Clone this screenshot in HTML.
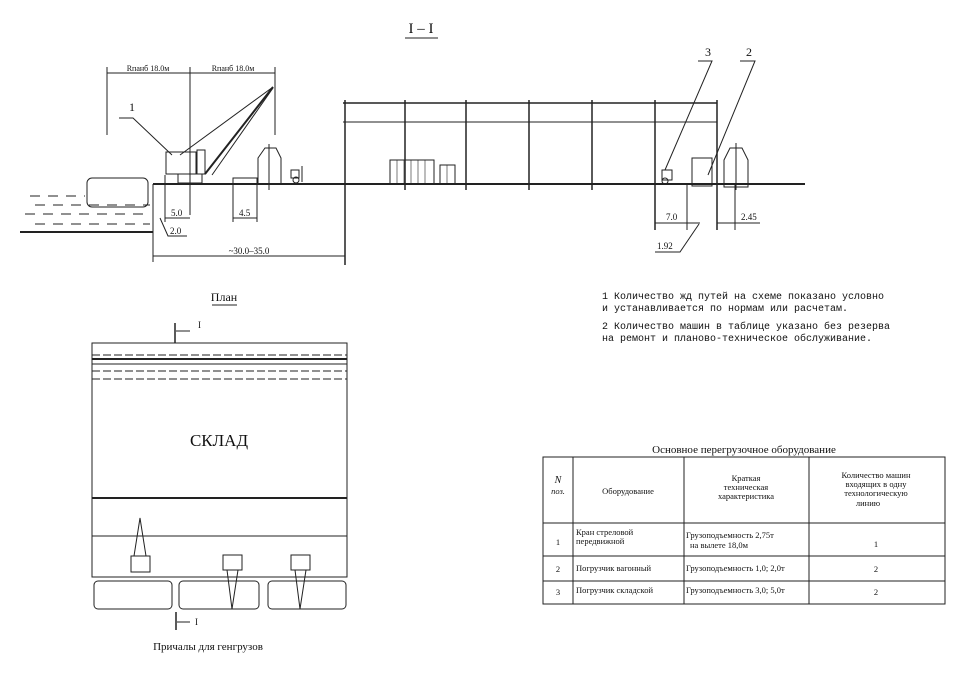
<!DOCTYPE html>
<html><head><meta charset="utf-8"><style>
body{margin:0;background:#fff}
svg{display:block}
text{font-family:"Liberation Serif","DejaVu Serif",serif;fill:#111}
text.mono{font-family:"Liberation Mono","DejaVu Sans Mono",monospace}
</style></head><body>
<svg width="966" height="677" viewBox="0 0 966 677" xmlns="http://www.w3.org/2000/svg" stroke="#222" fill="none" stroke-width="1">
<text x="421" y="33" font-size="15" text-anchor="middle" stroke="none">I – I</text>
<line x1="405" y1="38" x2="438" y2="38"/>
<line x1="107" y1="73" x2="275" y2="73"/>
<line x1="107" y1="67" x2="107" y2="135"/>
<line x1="190" y1="67" x2="190" y2="215"/>
<line x1="275" y1="67" x2="275" y2="135"/>
<text x="148" y="71" font-size="8" text-anchor="middle" stroke="none">Rпанб 18.0м</text>
<text x="233" y="71" font-size="8" text-anchor="middle" stroke="none">Rпанб 18.0м</text>
<text x="129" y="111" font-size="12" stroke="none">1</text>
<polyline points="119,118 133,118 172,155"/>
<rect x="166" y="152" width="30" height="22"/>
<rect x="197" y="150" width="8" height="24"/>
<rect x="178" y="174" width="24" height="9"/>
<line x1="205" y1="174" x2="273" y2="87" stroke-width="2"/>
<line x1="212" y1="175" x2="273" y2="88"/>
<line x1="180" y1="155" x2="273" y2="87"/>
<line x1="153" y1="184" x2="805" y2="184" stroke-width="2"/>
<line x1="153" y1="184" x2="153" y2="262"/>
<line x1="20" y1="232" x2="153" y2="232" stroke-width="2"/>
<rect x="87" y="178" width="61" height="29" rx="5"/>
<g stroke-dasharray="10,8"><line x1="30" y1="196" x2="85" y2="196"/><line x1="35" y1="205" x2="150" y2="205"/><line x1="25" y1="214" x2="150" y2="214"/><line x1="35" y1="224" x2="150" y2="224"/></g>
<path d="M258,184 V158 L265,148 L276,148 L281,158 V184 Z"/>
<line x1="269" y1="144" x2="269" y2="190"/>
<rect x="233" y="178" width="24" height="6"/>
<circle cx="296" cy="180" r="3"/><rect x="291" y="170" width="8" height="8"/><line x1="302" y1="166" x2="302" y2="182"/>
<line x1="165" y1="175" x2="165" y2="222"/><line x1="165" y1="218" x2="190" y2="218"/>
<text x="171" y="216" font-size="9" stroke="none">5.0</text>
<line x1="233" y1="184" x2="233" y2="222"/><line x1="257" y1="184" x2="257" y2="222"/><line x1="233" y1="218" x2="257" y2="218"/>
<text x="239" y="216" font-size="9" stroke="none">4.5</text>
<polyline points="160,218 168,236 187,236"/>
<text x="170" y="234" font-size="9" stroke="none">2.0</text>
<line x1="153" y1="256" x2="345" y2="256"/>
<text x="249" y="254" font-size="9" text-anchor="middle" stroke="none">~30.0–35.0</text>
<line x1="343" y1="103" x2="717" y2="103" stroke-width="1.5"/>
<line x1="343" y1="122" x2="717" y2="122"/>
<g stroke-width="1.5">
<line x1="345" y1="100" x2="345" y2="265"/><line x1="405" y1="100" x2="405" y2="190"/><line x1="466" y1="100" x2="466" y2="190"/>
<line x1="529" y1="100" x2="529" y2="190"/><line x1="592" y1="100" x2="592" y2="190"/><line x1="655" y1="100" x2="655" y2="230"/><line x1="717" y1="100" x2="717" y2="230"/>
</g>
<rect x="390" y="160" width="44" height="24"/><rect x="440" y="165" width="15" height="19"/>
<g stroke-width="0.6"><line x1="397" y1="160" x2="397" y2="184"/><line x1="404" y1="160" x2="404" y2="184"/><line x1="411" y1="160" x2="411" y2="184"/><line x1="418" y1="160" x2="418" y2="184"/><line x1="425" y1="160" x2="425" y2="184"/><line x1="447" y1="165" x2="447" y2="184"/></g>
<rect x="662" y="170" width="10" height="10"/><circle cx="665" cy="181" r="3"/>
<rect x="692" y="158" width="20" height="28"/>
<path d="M724,187 V160 L730,148 L742,148 L748,160 V187 Z"/>
<line x1="736" y1="143" x2="736" y2="190"/>
<line x1="687" y1="184" x2="687" y2="230"/><line x1="655" y1="223" x2="700" y2="223"/>
<text x="666" y="220" font-size="9" stroke="none">7.0</text>
<line x1="735" y1="185" x2="735" y2="230"/><line x1="717" y1="223" x2="760" y2="223"/>
<text x="741" y="220" font-size="9" stroke="none">2.45</text>
<polyline points="699,224 680,252 655,252"/>
<text x="657" y="249" font-size="9" stroke="none">1.92</text>
<text x="705" y="56" font-size="12" stroke="none">3</text>
<polyline points="698,61 712,61 665,170"/>
<text x="746" y="56" font-size="12" stroke="none">2</text>
<polyline points="740,61 755,61 708,175"/>
<text class="mono" font-size="10" stroke="none"><tspan x="602" y="299">1  Количество жд  путей на схеме показано условно</tspan><tspan x="602" y="311">и устанавливается по нормам или расчетам.</tspan><tspan x="602" y="329">2  Количество машин в таблице указано без резерва</tspan><tspan x="602" y="341">на ремонт и планово-техническое обслуживание.</tspan></text>
<text x="224" y="301" font-size="12" text-anchor="middle" stroke="none">План</text>
<line x1="212" y1="305" x2="237" y2="305"/>
<line x1="175" y1="323" x2="175" y2="343" stroke-width="1.5"/><line x1="176" y1="331" x2="190" y2="331"/>
<text x="198" y="328" font-size="9" stroke="none">I</text>
<rect x="92" y="343" width="255" height="234"/>
<line x1="92" y1="355" x2="347" y2="355" stroke-dasharray="8,3"/>
<line x1="92" y1="359" x2="347" y2="359" stroke-width="2"/>
<line x1="92" y1="364" x2="347" y2="364"/>
<line x1="92" y1="371" x2="347" y2="371" stroke-dasharray="8,3"/>
<line x1="92" y1="379" x2="347" y2="379" stroke-dasharray="8,3"/>
<line x1="92" y1="498" x2="347" y2="498" stroke-width="2"/>
<line x1="92" y1="536" x2="347" y2="536"/>
<text x="219" y="446" font-size="17" text-anchor="middle" stroke="none">СКЛАД</text>
<polygon points="140,518 134,556 146,556"/><rect x="131" y="556" width="19" height="16"/>
<rect x="223" y="555" width="19" height="15"/><polygon points="227,570 238,570 232,609"/>
<rect x="291" y="555" width="19" height="15"/><polygon points="295,570 306,570 300,609"/>
<rect x="94" y="581" width="78" height="28" rx="4"/>
<rect x="179" y="581" width="80" height="28" rx="4"/>
<rect x="268" y="581" width="78" height="28" rx="4"/>
<line x1="176" y1="612" x2="176" y2="630" stroke-width="1.5"/><line x1="177" y1="622" x2="190" y2="622"/>
<text x="195" y="625" font-size="9" stroke="none">I</text>
<text x="208" y="650" font-size="11" text-anchor="middle" stroke="none">Причалы для генгрузов</text>
<text x="744" y="453" font-size="11" text-anchor="middle" stroke="none">Основное перегрузочное оборудование</text>
<rect x="543" y="457" width="402" height="147"/>
<line x1="573" y1="457" x2="573" y2="604"/><line x1="684" y1="457" x2="684" y2="604"/><line x1="809" y1="457" x2="809" y2="604"/>
<line x1="543" y1="523" x2="945" y2="523"/><line x1="543" y1="556" x2="945" y2="556"/><line x1="543" y1="581" x2="945" y2="581"/>
<g stroke="none" font-size="8.5">
<text x="558" y="483" text-anchor="middle" font-size="10" font-style="italic">N</text>
<text x="558" y="494" text-anchor="middle" font-style="italic">поз.</text>
<text x="628" y="494" text-anchor="middle">Оборудование</text>
<text x="746" y="481" text-anchor="middle">Краткая</text><text x="746" y="490" text-anchor="middle">техническая</text><text x="746" y="499" text-anchor="middle">характеристика</text>
<text x="876" y="478" text-anchor="middle">Количество машин</text><text x="876" y="487" text-anchor="middle">входящих в одну</text><text x="876" y="496" text-anchor="middle">технологическую</text><text x="868" y="506" text-anchor="middle">линию</text>
<text x="558" y="545" text-anchor="middle">1</text><text x="576" y="535">Кран стреловой</text><text x="576" y="544">передвижной</text>
<text x="686" y="538">Грузоподъемность  2,75т</text><text x="690" y="548">на вылете  18,0м</text>
<text x="876" y="547" text-anchor="middle">1</text>
<text x="558" y="572" text-anchor="middle">2</text><text x="576" y="571">Погрузчик вагонный</text><text x="686" y="571">Грузоподъемность 1,0; 2,0т</text><text x="876" y="572" text-anchor="middle">2</text>
<text x="558" y="595" text-anchor="middle">3</text><text x="576" y="593">Погрузчик складской</text><text x="686" y="593">Грузоподъемность 3,0; 5,0т</text><text x="876" y="595" text-anchor="middle">2</text>
</g>
</svg>
</body></html>
